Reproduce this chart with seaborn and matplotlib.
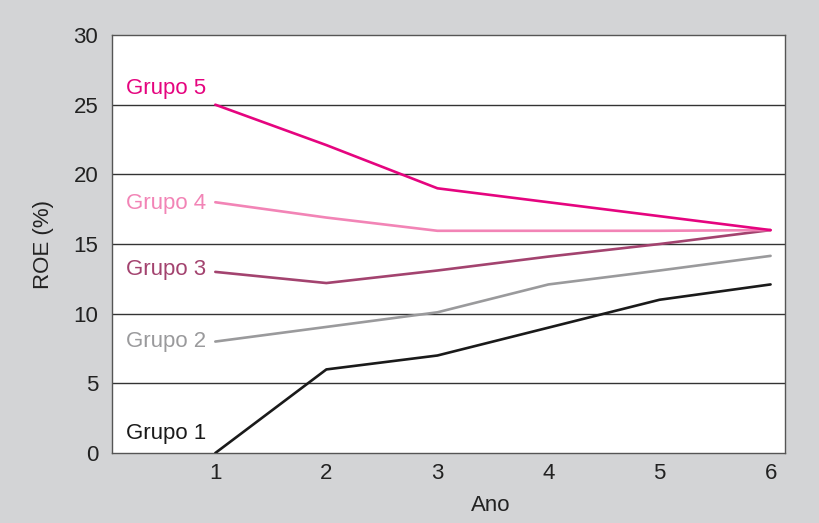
import pandas as pd
import matplotlib.pyplot as plt
import seaborn as sns

# ===================== Data =====================
anos = [1, 2, 3, 4, 5, 6]
grupo_1 = [0, 6.0, 7.0, 9.0, 11.0, 12.1]
grupo_2 = [8.0, 9.05, 10.1, 12.1, 13.1, 14.15]
grupo_3 = [13.0, 12.2, 13.1, 14.1, 15.0, 16.0]
grupo_4 = [18.0, 16.9, 15.95, 15.95, 15.95, 16.0]
grupo_5 = [25.0, 22.1, 19.0, 18.0, 17.0, 16.0]
grupos = ['Grupo 1', 'Grupo 2', 'Grupo 3', 'Grupo 4', 'Grupo 5']
label_y = [1.4, 8.0, 13.15, 17.9, 26.15]   # where the name sits, in ROE units
y_ticks = [0, 5, 10, 15, 20, 25, 30]

cores = ['#1a1a1a', '#9a9a9c', '#a3436f', '#f284b6', '#e5047f']
BG = '#d3d4d6'

# ===================== Long table =====================
series = [grupo_1, grupo_2, grupo_3, grupo_4, grupo_5]
df = pd.DataFrame({
    'Ano': anos * len(grupos),
    'ROE': [v for s in series for v in s],
    'Grupo': [g for g in grupos for _ in anos],
})

# ===================== Plot =====================
sns.set_style('white')
plt.rcParams['font.family'] = ['Liberation Sans', 'DejaVu Sans']

fig = plt.figure(figsize=(8.19, 5.23), dpi=100, facecolor=BG)
ax = fig.add_axes([0.1368, 0.1338, 0.8217, 0.7992])
ax.set_facecolor('white')

for y in y_ticks[1:-1]:
    ax.axhline(y, color='#333333', lw=1.0, zorder=1)

sns.lineplot(data=df, x='Ano', y='ROE', hue='Grupo', palette=cores,
             linewidth=1.9, legend=False, ax=ax, zorder=3)

for g, yl, c in zip(grupos, label_y, cores):
    ax.text(0.2, yl, g, color=c, fontsize=16, ha='left', va='center')

ax.set_xlim(0.07, 6.13)
ax.set_ylim(0, 30)
ax.set_xticks(anos)
ax.set_yticks(y_ticks)
ax.tick_params(labelsize=16, length=0, colors='#222222')
ax.tick_params(axis='y', pad=10)
ax.tick_params(axis='x', pad=7)
ax.set_xlabel('Ano', fontsize=16, color='#222222')
ax.xaxis.set_label_coords(0.562, -0.1)
ax.set_ylabel('ROE (%)', fontsize=16, color='#222222', labelpad=14)
for side in ['left', 'right', 'top', 'bottom']:
    ax.spines[side].set_color('#555555')
    ax.spines[side].set_linewidth(1.0)

plt.savefig('out.png', dpi=100, facecolor=BG)
